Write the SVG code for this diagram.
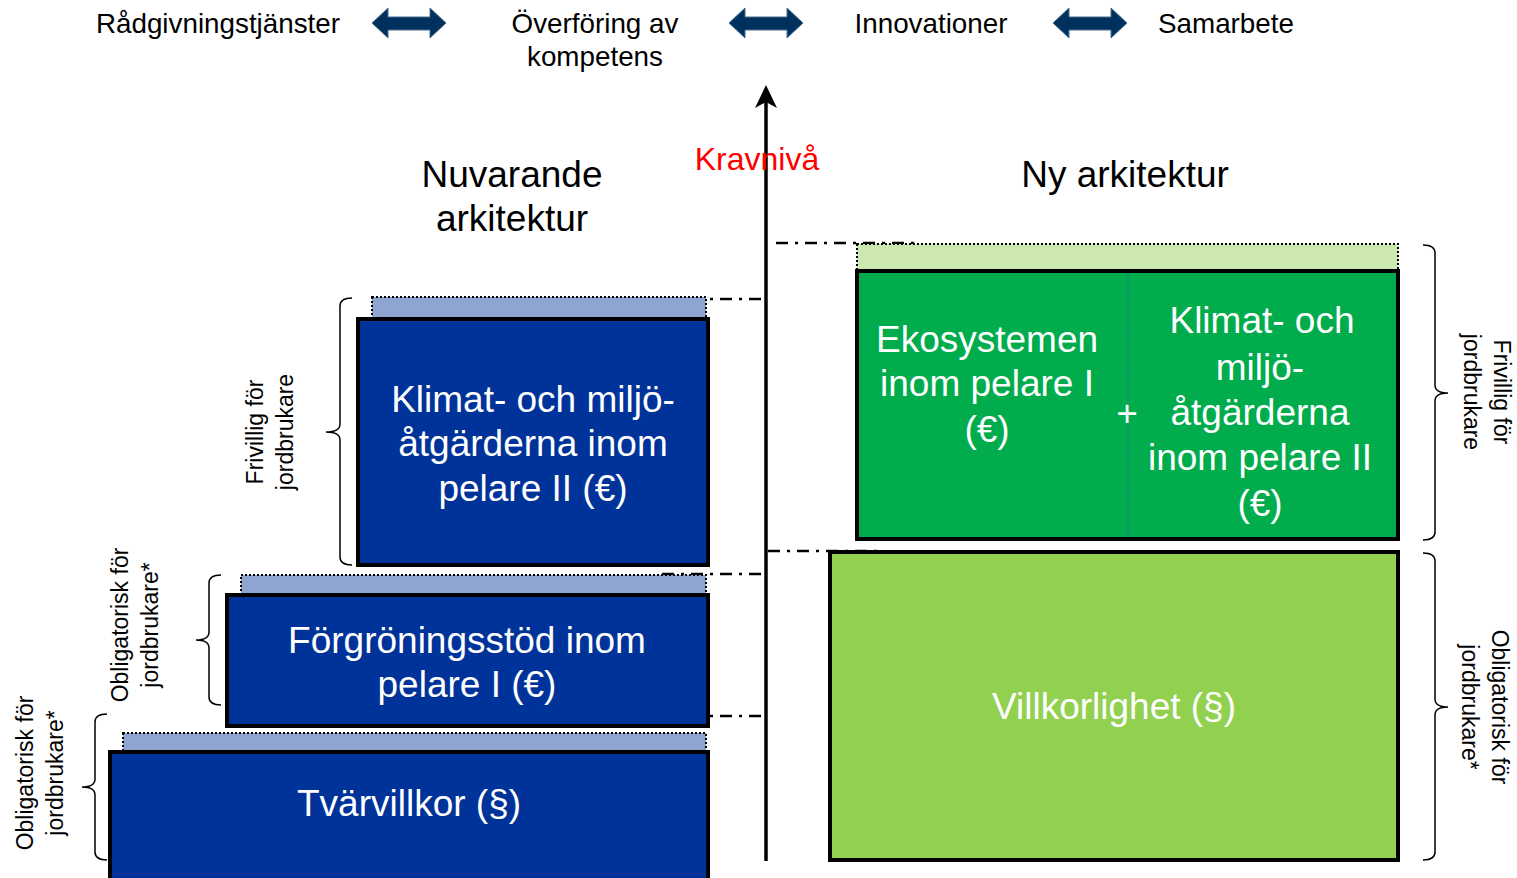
<svg xmlns="http://www.w3.org/2000/svg" width="1517" height="878" viewBox="0 0 1517 878">
<style>
text{font-family:"Liberation Sans",Arial,sans-serif;}
.top{font-size:27.8px;fill:#000;text-anchor:middle;}
.title{font-size:37px;fill:#000;text-anchor:middle;}
.box{font-size:37px;fill:#fff;text-anchor:middle;}
.side{font-size:23px;fill:#000;text-anchor:middle;}
.dark{fill:#003399;stroke:#000;stroke-width:4;}
.band{fill:#8EA5D2;stroke:#000;stroke-width:2;stroke-dasharray:2 2;}
.gband{fill:#CCE8B0;stroke:#000;stroke-width:2;stroke-dasharray:2 2;}
.brace{fill:none;stroke:#000;stroke-width:1.5;}
.dd{fill:none;stroke:#000;stroke-width:2.5;stroke-dasharray:12 7 3 7;}
.darr{fill:#00305E;stroke:#4A6E8E;stroke-width:1;}
</style>
<defs>
<polygon id="dblarrow" points="0,15 16,0 16,9 58,9 58,0 74,15 58,30 58,22 16,22 16,30"/>
</defs>
<rect width="1517" height="878" fill="#fff"/>
<g id="top-labels">
<text class="top" x="218" y="33">Rådgivningstjänster</text>
<text class="top" x="595" y="33">Överföring av</text>
<text class="top" x="595" y="66">kompetens</text>
<text class="top" x="931" y="33">Innovationer</text>
<text class="top" x="1226" y="33">Samarbete</text>
<use href="#dblarrow" class="darr" x="372" y="8"/>
<use href="#dblarrow" class="darr" x="729" y="8"/>
<use href="#dblarrow" class="darr" x="1053" y="8"/>
</g>
<g id="titles">
<text class="title" x="512" y="187">Nuvarande</text>
<text class="title" x="512" y="231">arkitektur</text>
<text class="title" x="1125" y="187">Ny arkitektur</text>
</g>
<g id="connectors">
<line x1="766" y1="100" x2="766" y2="861" stroke="#000" stroke-width="3.5"/>
<polygon points="766,85 755,108 766,102 777,108" fill="#000"/>
<path class="dd" d="M662,299 H766 M662,574 H766 M662,716 H766 M776,243 H915 M768,551 H880"/>
</g>
<g id="kravniva">
<text x="757" y="170" font-size="32" fill="#FF0000" text-anchor="middle">Kravnivå</text>
</g>
<g id="tvarvillkor">
<rect class="band" x="123" y="733" width="583" height="18"/>
<rect class="dark" x="110" y="752" width="598" height="130"/>
<text class="box" x="409" y="816">Tvärvillkor (§)</text>
</g>
<g id="forgroning">
<rect class="band" x="241" y="575" width="465" height="19"/>
<rect class="dark" x="227" y="595" width="481" height="131"/>
<text class="box" x="467" y="653">Förgröningsstöd inom</text>
<text class="box" x="467" y="697">pelare I (€)</text>
</g>
<g id="klimat-vanster">
<rect class="band" x="372" y="297" width="334" height="21"/>
<rect class="dark" x="358" y="319" width="350" height="246"/>
<text class="box" x="533" y="412">Klimat- och miljö-</text>
<text class="box" x="533" y="456">åtgärderna inom</text>
<text class="box" x="533" y="501">pelare II (€)</text>
</g>
<g id="gron-box">
<rect class="gband" x="857" y="244" width="541" height="26"/>
<rect x="857" y="271" width="541" height="268" fill="#00AC4C" stroke="#000" stroke-width="4"/>
<line x1="1128" y1="273" x2="1128" y2="537" stroke="#1F6FB0" stroke-width="1" stroke-dasharray="3 2"/>
<text class="box" x="987" y="352">Ekosystemen</text>
<text class="box" x="987" y="396">inom pelare I</text>
<text class="box" x="987" y="442">(€)</text>
<text class="box" x="1127" y="426" font-size="30">+</text>
<text class="box" x="1262" y="333">Klimat- och</text>
<text class="box" x="1260" y="380">miljö-</text>
<text class="box" x="1260" y="425">åtgärderna</text>
<text class="box" x="1260" y="470">inom pelare II</text>
<text class="box" x="1260" y="516">(€)</text>
</g>
<g id="villkorlighet">
<rect x="830" y="552" width="568" height="308" fill="#92D050" stroke="#000" stroke-width="4"/>
<text class="box" x="1114" y="719">Villkorlighet (§)</text>
</g>
<g id="braces">
<path class="brace" d="M352,298 Q340,298 340,306 L340,424 Q340,432 326,432 Q340,432 340,440 L340,557 Q340,565 352,565"/>
<path class="brace" d="M221,575 Q209,575 209,583 L209,632 Q209,640 196,640 Q209,640 209,648 L209,697 Q209,705 221,705"/>
<path class="brace" d="M107,714 Q95,714 95,722 L95,779 Q95,787 82,787 Q95,787 95,795 L95,852 Q95,860 107,860"/>
<path class="brace" d="M1423,245 Q1435,245 1435,253 L1435,385 Q1435,393 1448,393 Q1435,393 1435,401 L1435,532 Q1435,540 1423,540"/>
<path class="brace" d="M1423,553 Q1435,553 1435,561 L1435,699 Q1435,707 1448,707 Q1435,707 1435,715 L1435,852 Q1435,860 1423,860"/>
</g>
<g id="side-labels">
<g transform="translate(270,432) rotate(-90)">
<text class="side" x="0" y="-7">Frivillig för</text>
<text class="side" x="0" y="23">jordbrukare</text>
</g>
<g transform="translate(135,625) rotate(-90)">
<text class="side" x="0" y="-7">Obligatorisk för</text>
<text class="side" x="0" y="23">jordbrukare*</text>
</g>
<g transform="translate(40,773) rotate(-90)">
<text class="side" x="0" y="-7">Obligatorisk för</text>
<text class="side" x="0" y="23">jordbrukare*</text>
</g>
<g transform="translate(1487,392) rotate(90)">
<text class="side" x="0" y="-7">Frivillig för</text>
<text class="side" x="0" y="23">jordbrukare</text>
</g>
<g transform="translate(1485,707) rotate(90)">
<text class="side" x="0" y="-7">Obligatorisk för</text>
<text class="side" x="0" y="23">jordbrukare*</text>
</g>
</g>
</svg>
